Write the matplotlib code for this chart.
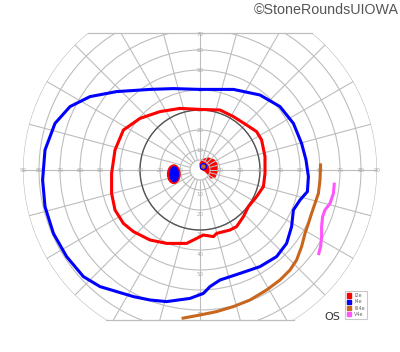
import numpy as np
import matplotlib
matplotlib.use("Agg")
import matplotlib.pyplot as plt
from matplotlib.patches import Polygon, Circle, Ellipse, Patch

# ---------------- data (degrees of visual field, x = horizontal, y = vertical) --------------
ring_labels = [10, 20, 30, 40, 50, 60, 70, 80, 90]
ring_radius = [10, 20, 30, 40, 50, 60, 70, 80.5, 88.5]
radial_angles = list(range(0, 360, 15))
clip_top, clip_bottom = 68.5, -75.0

legend_labels = ["I2e", "I4e", "III4e", "V4e"]
legend_colors = ["#ff0000", "#0000ff", "#c8661e", "#ff55ff"]

# I4e isopter (blue, closed)
i4e_x = [0, 16.7, 30, 40, 46.7, 50.8, 53, 54.2, 53.7, 50, 46.7, 45.8, 43.3, 38.3, 30, 20, 10,
         5, 1.7, -5, -16.7, -25, -33.3, -50, -58.3, -66.7, -73.3, -77.5, -78.7, -77.5, -72.5,
         -65, -55, -41.7, -25, -13.3, 0]
i4e_y = [40.3, 40.3, 37.5, 31.7, 23.3, 13.3, 5, -3.3, -10.8, -15, -20, -28.3, -36.7, -43.3,
         -48.3, -51.7, -55, -58.3, -61.7, -64.2, -65.8, -65, -63.3, -58.3, -53.3, -43.3, -31.7,
         -18.3, -5, 10, 23.3, 31.7, 36.7, 39.2, 40.3, 40.7, 40.3]

# I2e isopter (red, closed)
i2e_x = [-10, 0, 10, 16.7, 23.3, 28.3, 30.8, 32.5, 32.5, 31.7, 28.3, 24.2, 21.7, 18.3, 15, 8.3,
         6.7, 1.7, -1.7, -6.7, -16.7, -25, -33.3, -38.3, -42.5, -44.2, -44.2, -42.5, -38.3,
         -30, -20, -10]
i2e_y = [30.8, 30.3, 30, 26.7, 22.5, 19.2, 15, 6.7, -1.7, -8.3, -13.3, -18.3, -23.3, -28.3, -30,
         -31.7, -33.3, -32.5, -34.2, -36.7, -36.7, -35, -30.8, -26.7, -20, -11.7, -1.7, 10, 20,
         25.8, 29.2, 30.8]

# III4e isopter (orange, open)
iii4e_x = [60.3, 60, 59.2, 57.5, 55.8, 54.2, 52.5, 50.8, 48.3, 45, 40, 33.3, 25, 16.7, 8.3, 0, -9.2]
iii4e_y = [3.3, -5, -11.7, -16.7, -21.7, -26.7, -31.7, -38.3, -45, -50, -55, -60, -65, -68.3,
           -70.8, -72.5, -74.2]

# V4e isopter (magenta, open)
v4e_x = [67.2, 66.7, 65, 62.5, 61.3, 60.8, 60.8, 60.3, 59.2]
v4e_y = [-6.3, -11.7, -16.7, -20, -23.3, -28.3, -33.3, -38.3, -42.5]

# central I2e scotoma region (red)
central_x = [1, 4, 7, 8.5, 8.5, 7.5, 5.5, 4, 2.5, 0.5, 0]
central_y = [5, 6, 5, 3, -1, -3.5, -4, -2, -0.5, 0.5, 3]
central_dot = (1.7, 1.7, 1.5)          # x, y, radius

# blind spot (I2e red around I4e blue)
blind_red = (-13.1, -2.1, 6.2, 9.2)    # x, y, width, height
blind_blue = (-12.9, -2.1, 4.2, 7.5)

# ---------------- figure ----------------
fig = plt.figure(figsize=(4.0, 3.52), dpi=100)
ax = fig.add_axes([0, 0, 1, 1])
ax.set_xlim(-100, 100)
ax.set_ylim(-91, 85)
ax.axis("off")

grid_c = "#bdbdbd"
R = ring_radius[-1]

# clipping region: outer circle flattened at top and bottom
t = np.linspace(0, 2 * np.pi, 721)
clip_poly = Polygon(np.column_stack([R * np.cos(t), np.clip(R * np.sin(t), clip_bottom, clip_top)]),
                    closed=True, transform=ax.transData, facecolor="none", edgecolor="none")
ax.add_patch(clip_poly)

# central scotoma (under grid)
ax.add_patch(Polygon(np.column_stack([central_x, central_y]), closed=True,
                     facecolor="#ff0000", edgecolor="#ff0000", lw=1.0, zorder=1))

grid_artists = []
for r in [5] + ring_radius:
    c = Circle((0, 0), r, fill=False, edgecolor=grid_c, lw=0.8, zorder=2)
    ax.add_patch(c)
    grid_artists.append(c)
for a in radial_angles:
    th = np.deg2rad(a)
    l, = ax.plot([5 * np.cos(th), 100 * np.cos(th)], [5 * np.sin(th), 100 * np.sin(th)],
                 color=grid_c, lw=0.8, zorder=2)
    grid_artists.append(l)
for ln in grid_artists:
    ln.set_clip_path(clip_poly)

# top / bottom chords
for yc in (clip_top, clip_bottom):
    hx = np.sqrt(R ** 2 - yc ** 2)
    ax.plot([-hx, hx], [yc, yc], color=grid_c, lw=0.9, zorder=2)

# 30 degree ring darker
ax.add_patch(Circle((0, 0), 30, fill=False, edgecolor="#555555", lw=1.0, zorder=2.5))

# axis labels
lab_c = "#a8a8a8"
fs_lab = 4.0
for lab, r in zip(ring_labels, ring_radius):
    for s in (-1, 1):
        ax.text(s * r, 0, str(lab), fontsize=fs_lab, color=lab_c, ha="center", va="center", zorder=2.6)
for lab, r in zip(ring_labels[:7], ring_radius[:7]):
    ax.text(0, min(r, clip_top - 0.5), str(lab), fontsize=fs_lab, color=lab_c,
            ha="center", va="center", zorder=2.6)
    ax.text(0, -r - 2.5, str(lab), fontsize=fs_lab, color=lab_c, ha="center", va="center", zorder=2.6)

# isopters
lw = 2.2
ax.plot(i4e_x, i4e_y, color=legend_colors[1], lw=lw, solid_joinstyle="round",
        solid_capstyle="round", zorder=4)
ax.plot(i2e_x, i2e_y, color=legend_colors[0], lw=lw, solid_joinstyle="round",
        solid_capstyle="round", zorder=4)
ax.plot(iii4e_x, iii4e_y, color=legend_colors[2], lw=lw, solid_joinstyle="round",
        solid_capstyle="butt", zorder=4)
ax.plot(v4e_x, v4e_y, color=legend_colors[3], lw=lw, solid_joinstyle="round",
        solid_capstyle="butt", zorder=4)

# blind spot
ax.add_patch(Ellipse(blind_red[:2], blind_red[2], blind_red[3], facecolor="#ff0000",
                     edgecolor="#ff0000", zorder=4))
ax.add_patch(Ellipse(blind_blue[:2], blind_blue[2], blind_blue[3], facecolor="#0000ff",
                     edgecolor="#0000ff", zorder=4.1))

# central dot
ax.add_patch(Circle(central_dot[:2], central_dot[2], facecolor="#c8661e", edgecolor="#0000ff",
                    lw=1.0, zorder=4))

# legend
handles = [Patch(facecolor=c, edgecolor=c) for c in legend_colors]
leg = fig.legend(handles, legend_labels, loc="upper left", bbox_to_anchor=(0.862, 0.172),
                 fontsize=3.5, frameon=True, fancybox=False, edgecolor="#bbbbbb",
                 handlelength=0.9, handleheight=1.0, labelspacing=0.25, borderpad=0.35,
                 handletextpad=0.7, borderaxespad=0)
leg.get_frame().set_linewidth(0.8)
for tx in leg.get_texts():
    tx.set_color("#666666")

fig.text(0.83, 0.1, "OS", fontsize=8, color="#333333", ha="center", va="center")
fig.text(0.996, 0.992, "©StoneRoundsUIOWA", fontsize=10.3, color="#555555", ha="right", va="top",
         family="Liberation Sans")

fig.savefig("out.png", dpi=100)
